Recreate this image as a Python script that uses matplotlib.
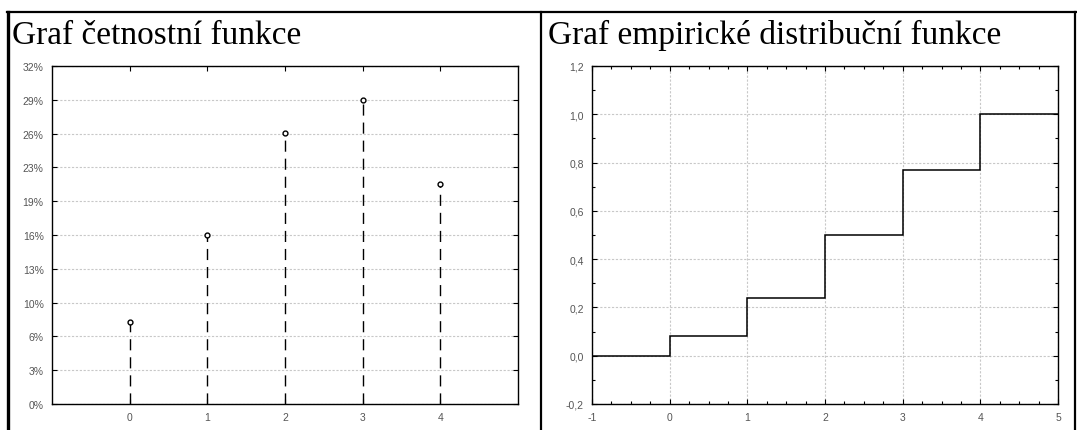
import matplotlib.pyplot as plt
import numpy as np
from matplotlib.lines import Line2D
from matplotlib.ticker import FuncFormatter, MultipleLocator

# četnostní funkce
hodnoty = [0, 1, 2, 3, 4]
cetnosti = [0.078, 0.16, 0.257, 0.288, 0.208]
popisky_y = ['0%', '3%', '6%', '10%', '13%', '16%', '19%', '23%', '26%', '29%', '32%']

# empirická distribuční funkce
hrany = [-1, 0, 1, 2, 3, 4, 5]
F = [0.0, 0.08, 0.24, 0.50, 0.77, 1.0]

plt.rcParams['font.family'] = 'Liberation Sans'

W, H = 1077, 431
fig = plt.figure(figsize=(W / 100, H / 100), dpi=100)

def px(x0, y0, x1, y1):
    return [x0 / W, 1 - y1 / H, (x1 - x0) / W, (y1 - y0) / H]

ax1 = fig.add_axes(px(52, 67, 518, 405))
ax2 = fig.add_axes(px(592, 67, 1058, 405))

seda = '#c8c8c8'
text_barva = '#555555'

for ax in (ax1, ax2):
    ax.tick_params(direction='in', top=True, right=True, length=3.5, width=0.8,
                   labelsize=7.5, labelcolor=text_barva, pad=6)
    ax.tick_params(which='minor', direction='in', top=True, right=True, length=2.5, width=0.8)
    for s in ax.spines.values():
        s.set_linewidth(1.0)
        s.set_color('black')
    ax.set_axisbelow(True)

# levý graf
ymax = 0.32
ax1.vlines(hodnoty, 0, cetnosti, colors='black', linewidth=1.0, linestyles=(0, (8, 5)))
ax1.plot(hodnoty, cetnosti, 'o', mfc='white', mec='black', ms=3.5, mew=1.0)
ax1.set_xlim(-1, 5)
ax1.set_ylim(0, ymax)
ax1.set_xticks(hodnoty)
ax1.set_yticks(np.linspace(0, ymax, len(popisky_y)))
ax1.set_yticklabels(popisky_y)
ax1.grid(axis='y', color=seda, linestyle=(0, (2, 1.5)), linewidth=0.8)

# pravý graf
ax2.stairs(F, hrany, baseline=None, color='black', linewidth=1.1)
ax2.set_xlim(-1, 5)
ax2.set_ylim(-0.2, 1.2)
ax2.xaxis.set_major_locator(MultipleLocator(1))
ax2.xaxis.set_minor_locator(MultipleLocator(0.25))
ax2.yaxis.set_major_locator(MultipleLocator(0.2))
ax2.yaxis.set_minor_locator(MultipleLocator(0.1))
ax2.xaxis.set_major_formatter(FuncFormatter(lambda v, p: f'{v:.0f}'))
ax2.yaxis.set_major_formatter(FuncFormatter(lambda v, p: f'{v:.1f}'.replace('.', ',')))
ax2.grid(which='major', color=seda, linestyle=(0, (2, 1.5)), linewidth=0.8)

# nadpisy
fig.text(12 / W, 1 - 44 / H, 'Graf četnostní funkce', fontsize=24,
         family='Liberation Serif', va='baseline', ha='left')
fig.text(548 / W, 1 - 44 / H, 'Graf empirické distribuční funkce', fontsize=24,
         family='Liberation Serif', va='baseline', ha='left')

# rámeček
fig.add_artist(Line2D([7 / W, 1], [1 - 13 / H, 1 - 13 / H], color='black', linewidth=1.6))
fig.add_artist(Line2D([8 / W, 8 / W], [0, 1 - 13 / H], color='black', linewidth=2.4))
fig.add_artist(Line2D([541 / W, 541 / W], [0, 1 - 13 / H], color='black', linewidth=1.6))
fig.add_artist(Line2D([1075 / W, 1075 / W], [0, 1 - 13 / H], color='black', linewidth=1.6))

fig.savefig('out.png', dpi=100)
